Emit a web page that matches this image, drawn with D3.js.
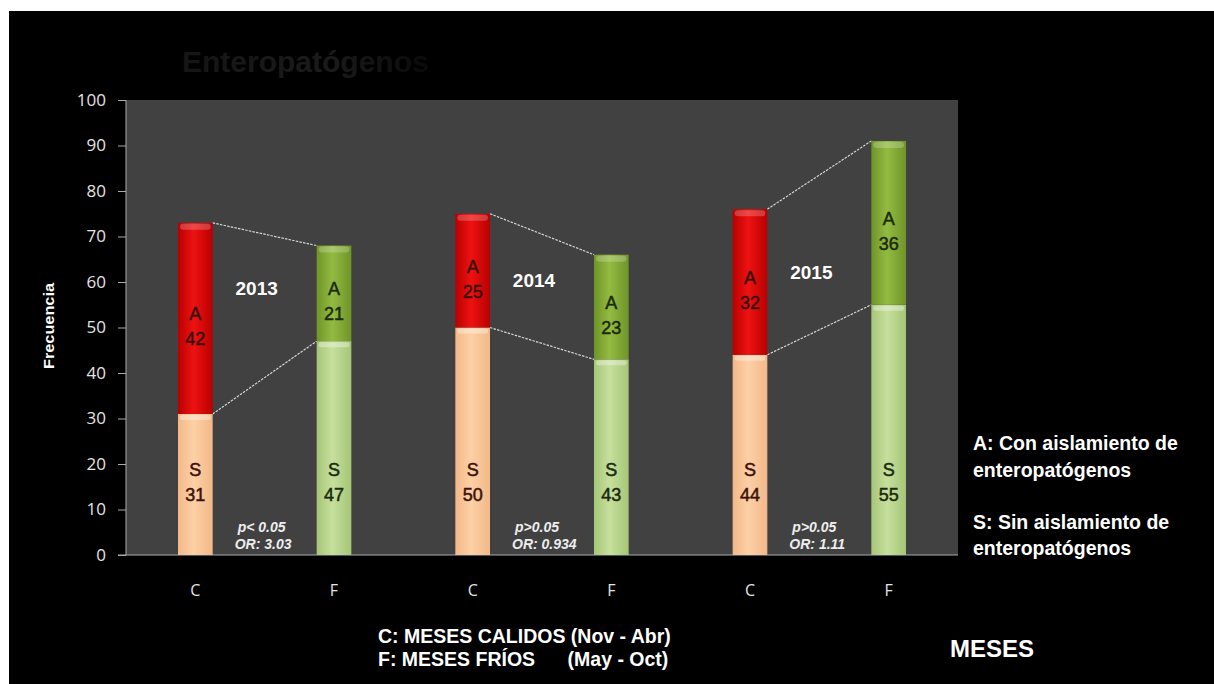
<!DOCTYPE html>
<html><head><meta charset="utf-8">
<script src="https://cdn.jsdelivr.net/npm/d3@7"></script>
<style>body{margin:0;background:#fff;}svg{display:block;}</style>
</head><body>
<svg id="chart" width="1214" height="684"></svg>
<script>
// ---- data ----
const categories = ["2013-C","2013-F","2014-C","2014-F","2015-C","2015-F"];
const catLabels = ["C","F","C","F","C","F"];
const sinValues = [31,47,50,43,44,55];   // S: Sin aislamiento
const conValues = [42,21,25,23,32,36];   // A: Con aislamiento
const years = ["2013","2014","2015"];
const pTexts = ["p< 0.05","p>0.05","p>0.05"];
const orTexts = ["OR: 3.03","OR: 0.934","OR: 1.11"];
const yTicks = [0,10,20,30,40,50,60,70,80,90,100];

const svg = d3.select("#chart");
const W = 1214, H = 684;
const m = {left:126, right:256, top:100, bottom:129};
const pw = W - m.left - m.right, ph = H - m.top - m.bottom;
const FONT = "Liberation Sans, Arial, sans-serif";

const defs = svg.append("defs");
const tgr = defs.append("linearGradient").attr("id","gTitle").attr("x1","0").attr("x2","1").attr("y1","0").attr("y2","0");
tgr.append("stop").attr("offset","0%").attr("stop-color","#151515");
tgr.append("stop").attr("offset","60%").attr("stop-color","#1b1b1b");
tgr.append("stop").attr("offset","100%").attr("stop-color","#0a0a0a");
function grad(id, edge, center){
  const gr = defs.append("linearGradient").attr("id",id).attr("x1","0").attr("x2","1").attr("y1","0").attr("y2","0");
  gr.append("stop").attr("offset","0%").attr("stop-color",edge);
  gr.append("stop").attr("offset","45%").attr("stop-color",center);
  gr.append("stop").attr("offset","100%").attr("stop-color",edge);
}
grad("gRed","#b80000","#ee1212");
grad("gPeach","#f3b888","#fdd0a6");
grad("gDG","#6f9428","#93bb42");
grad("gLG","#a6c676","#c6df9e");

svg.append("rect").attr("x",9).attr("y",11).attr("width",W-9).attr("height",H-11).attr("fill","#000");

// faded title
svg.append("text").attr("x",182).attr("y",72).attr("fill","url(#gTitle)")
  .attr("font-family",FONT).attr("font-weight","bold").attr("font-size",30)
  .text("Enteropatógenos");

const x = d3.scaleBand().domain(categories).range([0,pw]).paddingInner(0.75).paddingOuter(0.375);
const y = d3.scaleLinear().domain([0,100]).range([ph,0]);

const g = svg.append("g").attr("transform",`translate(${m.left},${m.top})`);
g.append("rect").attr("width",pw).attr("height",ph).attr("fill","#414141");

// y axis
const ya = g.append("g").call(d3.axisLeft(y).tickValues(yTicks).tickSize(8).tickPadding(12));
ya.select(".domain").attr("stroke","#aaa").attr("d",`M0,${ph}V0`);
ya.selectAll(".tick line").attr("stroke","#aaa");
ya.selectAll("text").attr("fill","#e4e4e4").attr("font-family","Open Sans, sans-serif").attr("font-size",17);
g.append("line").attr("x1",-8).attr("x2",pw).attr("y1",ph).attr("y2",ph).attr("stroke","#aaa");

// x labels
g.selectAll(".xl").data(categories).enter().append("text")
  .attr("x",d=>x(d)+x.bandwidth()/2).attr("y",ph+41).attr("text-anchor","middle")
  .attr("fill","#e4e4e4").attr("font-family","Open Sans, sans-serif").attr("font-size",16)
  .text((d,i)=>catLabels[i]);

// connecting lines
for(let k=0;k<3;k++){
  const c = categories[2*k], f = categories[2*k+1];
  const x1 = x(c)+x.bandwidth(), x2 = x(f);
  [[sinValues[2*k]+conValues[2*k], sinValues[2*k+1]+conValues[2*k+1]],[sinValues[2*k], sinValues[2*k+1]]].forEach(p=>{
    g.append("line").attr("x1",x1).attr("x2",x2).attr("y1",y(p[0])).attr("y2",y(p[1]))
      .attr("stroke","#e6e6e6").attr("stroke-width",1.2).attr("stroke-dasharray","2.5,1.2").attr("opacity",0.9);
  });
}

// bars
categories.forEach((c,i)=>{
  const warm = i%2===0;
  const bx = x(c), bw = x.bandwidth();
  const s = sinValues[i], a = conValues[i];
  g.append("rect").attr("x",bx).attr("y",y(s)).attr("width",bw).attr("height",y(0)-y(s))
    .attr("fill",warm?"url(#gPeach)":"url(#gLG)");
  g.append("rect").attr("x",bx+2).attr("y",y(s)+1).attr("width",bw-4).attr("height",5).attr("rx",2)
    .attr("fill","#fff").attr("opacity",0.35);
  g.append("rect").attr("x",bx).attr("y",y(s+a)).attr("width",bw).attr("height",y(s)-y(s+a))
    .attr("fill",warm?"url(#gRed)":"url(#gDG)");
  g.append("rect").attr("x",bx+2).attr("y",y(s+a)+1).attr("width",bw-4).attr("height",6).attr("rx",3)
    .attr("fill","#fff").attr("opacity",0.22);
  const tc = warm?"#3a1208":"#1b2a0c";
  const cx = bx+bw/2;
  const lab = (label,val,cy)=>{
    const t = g.append("text").attr("text-anchor","middle").attr("fill",tc)
      .attr("stroke",tc).attr("stroke-width",0.5)
      .attr("font-family",FONT).attr("font-size",18);
    t.append("tspan").attr("x",cx).attr("y",cy-6).text(label);
    t.append("tspan").attr("x",cx).attr("y",cy+19).text(val);
  };
  lab("A",a,y(s+a/2)+8);
  lab("S",s,y(16));
});

// year labels and stats
years.forEach((yr,k)=>{
  const cR = x(categories[2*k])+x.bandwidth(), fL = x(categories[2*k+1]);
  const mid = (cR+fL)/2;
  g.append("text").attr("x",mid-8).attr("y",y(58)+4-k*8).attr("text-anchor","middle")
    .attr("fill","#fff").attr("font-family",FONT).attr("font-weight","bold").attr("font-size",19)
    .text(yr);
  const t = g.append("text").attr("fill","#eee").attr("font-family",FONT)
    .attr("font-weight","bold").attr("font-style","italic").attr("font-size",14);
  t.append("tspan").attr("x",fL-79).attr("y",y(5)).text(pTexts[k]);
  t.append("tspan").attr("x",fL-82).attr("y",y(1.3)).text(orTexts[k]);
});

// y axis title
svg.append("text").attr("transform","translate(54,326) rotate(-90)").attr("text-anchor","middle")
  .attr("fill","#fff").attr("font-family",FONT).attr("font-weight","bold").attr("font-size",15)
  .attr("textLength",86).attr("lengthAdjust","spacingAndGlyphs")
  .text("Frecuencia");

// legend text
const leg = [["A: Con aislamiento de",450],["enteropatógenos",477],["S: Sin aislamiento de",529],["enteropatógenos",555]];
leg.forEach(([t,yy])=>svg.append("text").attr("x",973).attr("y",yy).attr("fill","#fff")
  .attr("font-family",FONT).attr("font-weight","bold").attr("font-size",19.5).text(t));

// bottom notes
svg.append("text").attr("x",378).attr("y",643).attr("fill","#fff").attr("font-family",FONT)
  .attr("font-weight","bold").attr("font-size",19.5).text("C: MESES CALIDOS (Nov - Abr)");
svg.append("text").attr("x",378).attr("y",666).attr("fill","#fff").attr("font-family",FONT)
  .attr("font-weight","bold").attr("font-size",19.5).style("white-space","pre")
  .text("F: MESES FRÍOS      (May - Oct)");
svg.append("text").attr("x",950).attr("y",657).attr("fill","#fff").attr("font-family",FONT)
  .attr("font-weight","bold").attr("font-size",24).text("MESES");
</script>
</body></html>
